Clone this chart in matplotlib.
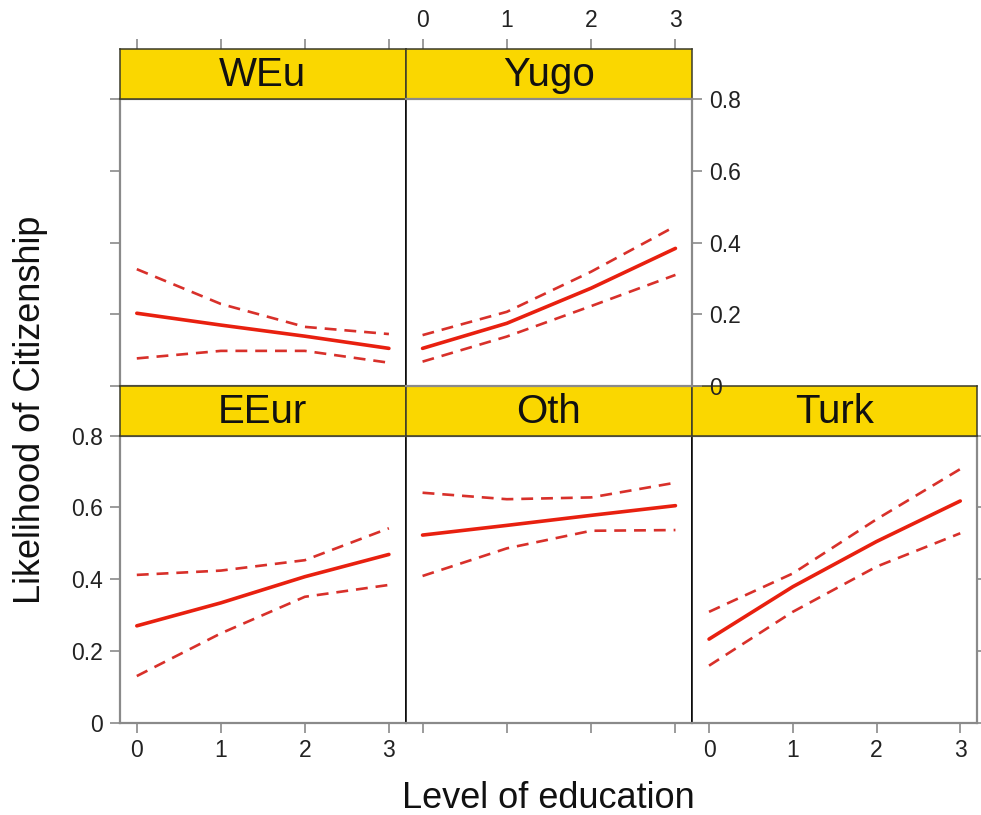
import matplotlib
matplotlib.use('Agg')
import matplotlib.pyplot as plt

plt.rcParams['font.family'] = ['Liberation Sans', 'DejaVu Sans']

# level of education (x) and the fitted effects with confidence bands
education = [0, 1, 2, 3]

weu_fit = [0.203, 0.170, 0.139, 0.105]
weu_lo = [0.077, 0.098, 0.098, 0.065]
weu_hi = [0.326, 0.229, 0.165, 0.145]

yugo_fit = [0.105, 0.175, 0.273, 0.384]
yugo_lo = [0.068, 0.138, 0.223, 0.310]
yugo_hi = [0.142, 0.207, 0.319, 0.446]

eeur_fit = [0.270, 0.334, 0.407, 0.469]
eeur_lo = [0.130, 0.249, 0.351, 0.384]
eeur_hi = [0.412, 0.424, 0.453, 0.542]

oth_fit = [0.523, 0.550, 0.578, 0.605]
oth_lo = [0.409, 0.486, 0.535, 0.537]
oth_hi = [0.641, 0.623, 0.628, 0.669]

turk_fit = [0.233, 0.379, 0.505, 0.618]
turk_lo = [0.159, 0.309, 0.435, 0.528]
turk_hi = [0.309, 0.416, 0.567, 0.707]

y_ticks = [0, 0.2, 0.4, 0.6, 0.8]
y_ticklabels = ['0', '0.2', '0.4', '0.6', '0.8']

panels = [
    ('WEu', 0, 0, weu_fit, weu_lo, weu_hi),
    ('Yugo', 0, 1, yugo_fit, yugo_lo, yugo_hi),
    ('EEur', 1, 0, eeur_fit, eeur_lo, eeur_hi),
    ('Oth', 1, 1, oth_fit, oth_lo, oth_hi),
    ('Turk', 1, 2, turk_fit, turk_lo, turk_hi),
]

W, H = 981, 815
fig = plt.figure(figsize=(W / 100, H / 100), dpi=100)


def box(x0, y0, x1, y1):
    return [x0 / W, 1 - y1 / H, (x1 - x0) / W, (y1 - y0) / H]


cols = [120, 405.7, 692.3, 977]
strip_top = [48.5, 386]
panel_top = [99.3, 435.7]
panel_bot = [386, 722.7]

red = '#e8200f'
red_dash = '#d8302a'
strip_col = '#fad700'
frame_grey = '#8a8a8a'
tick_kw = dict(direction='out', length=7, width=1.2, color=frame_grey,
               labelsize=16.5, labelcolor='#222222', pad=5)

for name, r, c, fit, lo, hi in panels:
    ax = fig.add_axes(box(cols[c], panel_top[r], cols[c + 1], panel_bot[r]))
    sax = fig.add_axes(box(cols[c], strip_top[r], cols[c + 1], panel_top[r]))
    if name == 'Yugo':
        ax.set_zorder(5)

    ax.plot(education, fit, color=red, lw=2.6, solid_capstyle='round')
    ax.plot(education, lo, color=red_dash, lw=1.9, dashes=(4.5, 3))
    ax.plot(education, hi, color=red_dash, lw=1.9, dashes=(4.5, 3))
    ax.set_xlim(-0.2, 3.2)
    ax.set_ylim(0, 0.8)
    ax.set_xticks(education)
    ax.set_yticks(y_ticks)
    ax.set_yticklabels(y_ticklabels)
    ax.tick_params(**tick_kw)
    ax.tick_params(left=False, bottom=False, labelleft=False, labelbottom=False)

    for side in ['left', 'right', 'top', 'bottom']:
        ax.spines[side].set_color(frame_grey)
        ax.spines[side].set_linewidth(1.6)
    # inner dividers between columns are black
    if c > 0:
        ax.spines['left'].set_color('black')
        ax.spines['left'].set_linewidth(1.1)
    if (r == 0 and c == 0) or (r == 1 and c < 2):
        ax.spines['right'].set_color('black')
        ax.spines['right'].set_linewidth(1.1)

    # strip
    sax.set_facecolor(strip_col)
    sax.set_xlim(-0.2, 3.2)
    sax.set_yticks([])
    sax.set_xticks(education)
    sax.tick_params(**tick_kw)
    sax.tick_params(bottom=False, labelbottom=False, top=False, labeltop=False)
    for side in ['left', 'right', 'top', 'bottom']:
        sax.spines[side].set_color('#3a3a2a')
        sax.spines[side].set_linewidth(1.1)
    sax.text(0.5, 0.47, name, transform=sax.transAxes, ha='center',
             va='center', fontsize=29, color='#111111')

    if name == 'WEu':
        ax.tick_params(left=True)
        sax.tick_params(top=True)
    elif name == 'Yugo':
        ax.tick_params(right=True, labelright=True)
        sax.tick_params(top=True, labeltop=True)
    elif name == 'EEur':
        ax.tick_params(left=True, labelleft=True, bottom=True, labelbottom=True)
    elif name == 'Oth':
        ax.tick_params(bottom=True)
    elif name == 'Turk':
        ax.tick_params(bottom=True, labelbottom=True, right=True)

fig.text(548 / W, 1 - 799 / H, 'Level of education', ha='center',
         va='center', fontsize=26, color='#111111')
fig.text(31 / W, 1 - 410 / H, 'Likelihood of Citizenship', ha='center',
         va='center', rotation=90, fontsize=26, color='#111111')

fig.savefig('out.png', dpi=100)
